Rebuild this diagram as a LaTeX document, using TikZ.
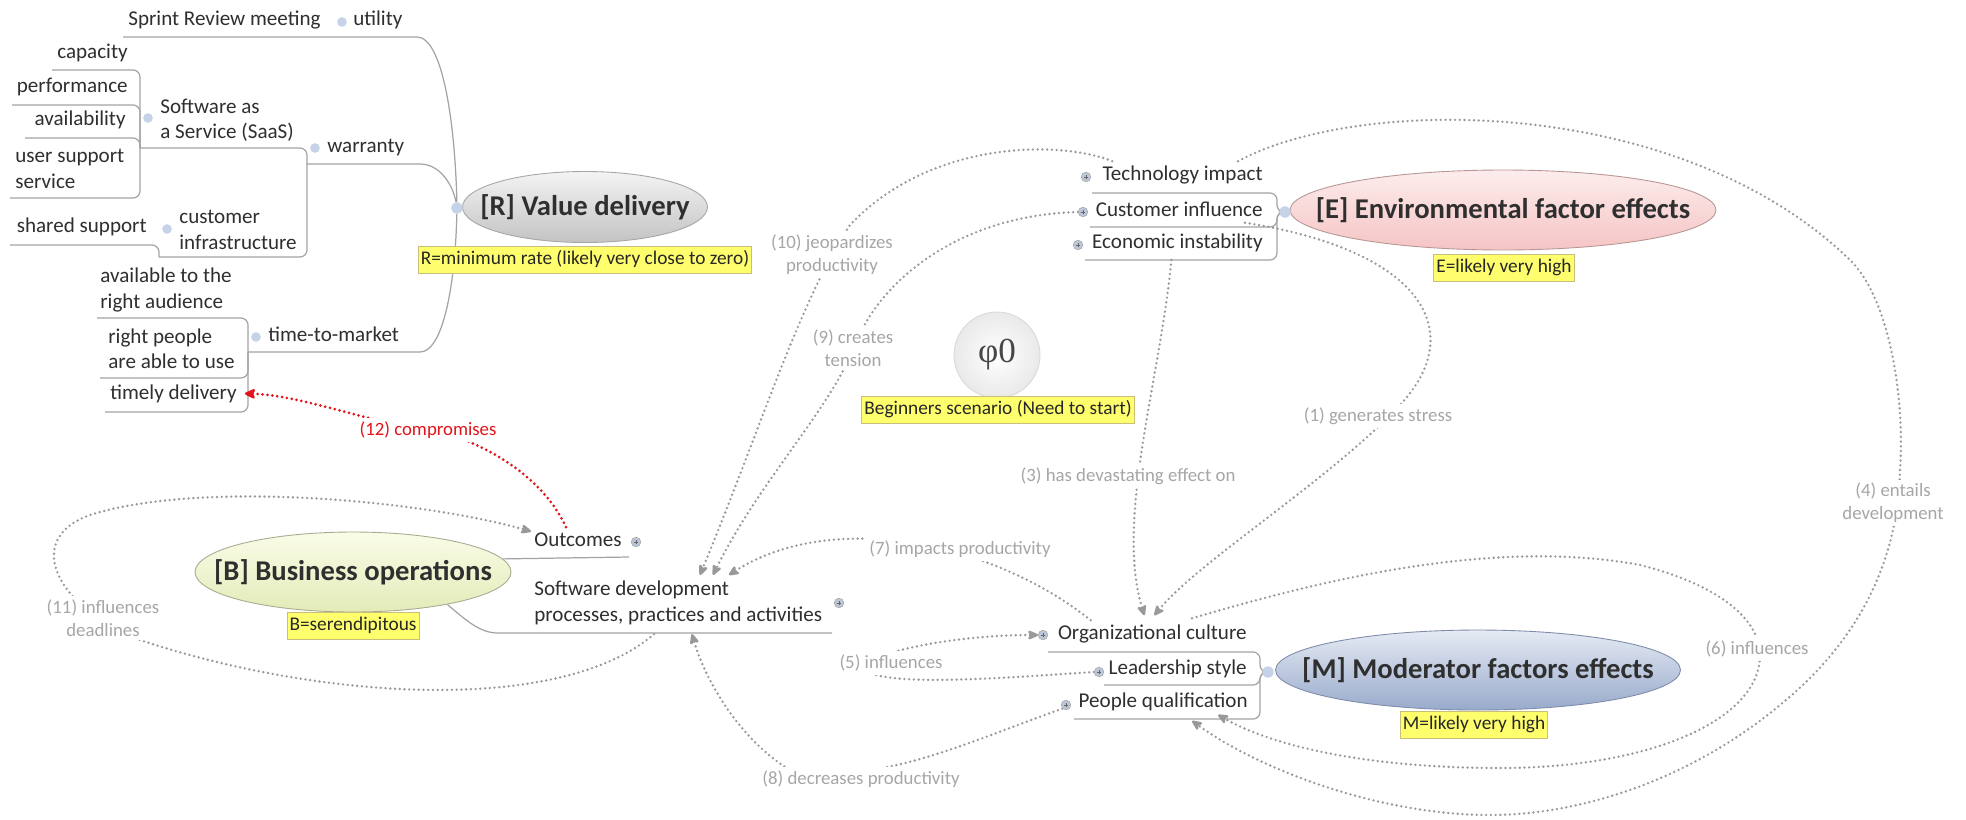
\documentclass[tikz,border=0pt]{standalone}
\usepackage{fontspec}
\setmainfont{Carlito}
\newfontfamily\phifont{Liberation Serif}
\usetikzlibrary{calc,shapes.geometric,arrows.meta}
\definecolor{txt}{HTML}{2F2F2F}
\definecolor{branchgray}{HTML}{A4A4A4}
\definecolor{relgray}{HTML}{999999}
\definecolor{labelgray}{HTML}{A6A6A6}
\definecolor{notefill}{HTML}{FFFF6E}
\definecolor{noteline}{HTML}{C8C07A}
\definecolor{knobfill}{HTML}{C6D2E8}
\definecolor{relred}{HTML}{E3141B}
\pgfdeclarelayer{back}
\pgfsetlayers{back,main}

\begin{document}
\begin{tikzpicture}[x=0.02cm,y=-0.02cm,
	topic/.style={inner sep=0pt,text=txt,font=\fontsize{12}{14.5}\selectfont},
	heading/.style={inner sep=0pt,text=txt,font=\fontsize{16.3}{18}\selectfont\bfseries},
	bubble/.style={ellipse,inner sep=0pt,line width=0.5pt},
	note/.style={fill=notefill,draw=noteline,line width=0.4pt,text=black!85,inner xsep=1.5pt,inner ysep=2.4pt,text height=8pt,text depth=2.4pt,font=\fontsize{11}{13}\selectfont},
	knob/.style={circle,fill=knobfill,inner sep=0pt,minimum size=5.5pt},
	knobplus/.style={circle,fill=knobfill!85!gray,draw=gray!70,line width=0.3pt,inner sep=0pt,minimum size=5.5pt,
		path picture={\draw[black!60,line width=0.4pt] ($(path picture bounding box.center)+(-1.3pt,0)$) -- ++(2.6pt,0) ($(path picture bounding box.center)+(0,-1.3pt)$) -- ++(0,2.6pt);}},
	rootknob/.style={circle,fill=knobfill,inner sep=0pt,minimum size=6.5pt},
	branch/.style={draw=branchgray,line width=0.7pt,rounded corners=4pt},
	rel/.style={draw=relgray,line width=1.5pt,line cap=round,dash pattern=on 0pt off 2.7pt,-{Stealth[length=7.5pt,width=6.5pt,inset=2pt,round]}},
	relred/.style={draw=relred,line width=1.7pt,line cap=round,dash pattern=on 0pt off 2.8pt,-{Stealth[length=7.5pt,width=7pt,inset=2pt,round]}},
	rellabel/.style={fill=white,inner sep=2pt,text=labelgray,align=center,font=\fontsize{10.7}{13}\selectfont},
	]
	\useasboundingbox (0,0) rectangle (1966,819);
	%VALUE DELIVERY
	\node[bubble,minimum width=4.9cm,minimum height=1.42cm,draw=gray!70,top color=gray!9,bottom color=gray!47] (R) at (585,207) {};
	\node[heading] (R-t) at (R) {[R] Value delivery};
	\node[note] (R-n) at (585,260) {R=minimum rate (likely very close to zero)};
	\node[rootknob] (kR) at (457,208) {};
	\node[topic,anchor=mid west] (util) at (353,21) {utility};
	\node[topic,anchor=mid west] (sprint) at (128,21) {Sprint Review meeting};
	\node[knob] (k-util) at (342,22) {};
	\node[topic,anchor=mid west] (warr) at (327,148) {warranty};
	\node[knob] (k-warr) at (315,148) {};
	\node[topic,anchor=west,align=left] (saas) at (160,120) {Software as\\a Service (SaaS)};
	\node[knob] (k-saas) at (148,118) {};
	\node[topic,anchor=mid east] (capacity) at (128,54) {capacity};
	\node[topic,anchor=mid east] (perf) at (128,88) {performance};
	\node[topic,anchor=mid east] (avail) at (126,121) {availability};
	\node[topic,anchor=west,align=left] (support) at (15,169) {user support\\service};
	\node[topic,anchor=west,align=left] (cinfra) at (179,230) {customer\\infrastructure};
	\node[knob] (k-cinfra) at (167,229) {};
	\node[topic,anchor=mid east] (shared) at (147,228) {shared support};
	\node[topic,anchor=mid west] (ttm) at (268,337) {time-to-market};
	\node[knob] (k-ttm) at (256,337) {};
	\node[topic,anchor=west,align=left] (audience) at (100,290) {available to the\\right audience};
	\node[topic,anchor=west,align=left] (ableuse) at (108,349) {right people\\are able to use};
	\node[topic,anchor=mid west] (timely) at (110,395) {timely delivery};
	\coordinate (util-r) at (410,37);
	\coordinate (util-l) at (123,37);
	\coordinate (warr-r) at (413,164);
	\coordinate (warr-l) at (307,164);
	\coordinate (saas-l) at (140,148);
	\coordinate (capacity-l) at (52,70);
	\coordinate (perf-l) at (12,105);
	\coordinate (avail-l) at (25,138);
	\coordinate (support-l) at (10,198);
	\coordinate (cinfra-l) at (159,257);
	\coordinate (shared-l) at (10,245);
	\coordinate (ttm-r) at (413,352);
	\coordinate (ttm-l) at (248,352);
	\coordinate (audience-l) at (97,318);
	\coordinate (ableuse-l) at (100,378);
	\coordinate (timely-l) at (105,412);
	%ENVIRONMENTAL FACTORS
	\node[bubble,minimum width=8.52cm,minimum height=1.6cm,draw={rgb,255:red,184;green,150;blue,150},top color={rgb,255:red,253;green,236;blue,236},bottom color={rgb,255:red,245;green,196;blue,196}] (E) at (1503,210) {};
	\node[heading] (E-t) at (E) {[E] Environmental factor effects};
	\node[note] (E-n) at (1504,268) {E=likely very high};
	\node[rootknob] (kE) at (1285,212) {};
	\node[topic,anchor=mid east] (tech) at (1263,176) {Technology impact};
	\node[topic,anchor=mid east] (cust) at (1263,212) {Customer influence};
	\node[topic,anchor=mid east] (econ) at (1263,244) {Economic instability};
	\node[knobplus] (k-tech) at (1086,177) {};
	\node[knobplus] (k-cust) at (1083,212) {};
	\node[knobplus] (k-econ) at (1078,245) {};
	\coordinate (ebr) at (1277,212);
	\coordinate (tech-l) at (1092,193);
	\coordinate (cust-l) at (1090,227);
	\coordinate (econ-l) at (1085,260);
	%MODERATOR FACTORS
	\node[bubble,minimum width=8.1cm,minimum height=1.6cm,draw={rgb,255:red,127;green,141;blue,170},top color={rgb,255:red,230;green,235;blue,244},bottom color={rgb,255:red,152;green,170;blue,203}] (M) at (1478,670) {};
	\node[heading] (M-t) at (M) {[M] Moderator factors effects};
	\node[note] (M-n) at (1474,725) {M=likely very high};
	\node[rootknob] (kM) at (1268,672) {};
	\node[topic,anchor=mid east] (org) at (1247,635) {Organizational culture};
	\node[topic,anchor=mid east] (lead) at (1247,670) {Leadership style};
	\node[topic,anchor=mid east] (people) at (1248,703) {People qualification};
	\node[knobplus] (k-org) at (1043,635) {};
	\node[knobplus] (k-lead) at (1099,672) {};
	\node[knobplus] (k-people) at (1066,705) {};
	\coordinate (mbr) at (1260,672);
	\coordinate (org-l) at (1048,652);
	\coordinate (lead-l) at (1104,685);
	\coordinate (people-l) at (1074,719);
	%BUSINESS OPERATIONS
	\node[bubble,minimum width=6.32cm,minimum height=1.6cm,draw={rgb,255:red,168;green,171;blue,144},top color={rgb,255:red,250;green,252;blue,232},bottom color={rgb,255:red,227;green,235;blue,184}] (B) at (353,572) {};
	\node[heading] (B-t) at (B) {[B] Business operations};
	\node[note] (B-n) at (353,626) {B=serendipitous};
	\node[topic,anchor=mid west] (out) at (534,542) {Outcomes};
	\node[knobplus] (k-out) at (636,542) {};
	\node[topic,anchor=west,align=left] (sw) at (534,603) {Software development\\processes, practices and activities};
	\node[knobplus] (k-sw) at (839,603) {};
	\coordinate (out-r) at (629,557);
	\coordinate (sw-bend) at (505,633);
	\coordinate (sw-r) at (832,633);
	%SCENARIO
	\node[circle,minimum size=1.72cm,inner sep=0pt,inner color=white,outer color=gray!17,draw=gray!30,line width=0.5pt] (phi) at (997,355) {};
	\node[font=\phifont\fontsize{20}{20}\selectfont,text=black!72] (phi-t) at (phi) {φ0};
	\node[note] (phi-n) at (998,410) {Beginners scenario (Need to start)};
	%RELATIONSHIP LABELS
	\node[rellabel] (l1) at (1378,416) {(1) generates stress};
	\node[rellabel] (l3) at (1128,476) {(3) has devastating effect on};
	\node[rellabel] (l4) at (1893,503) {(4) entails\\development};
	\node[rellabel] (l5) at (891,663) {(5) influences};
	\node[rellabel] (l6) at (1757,649) {(6) influences};
	\node[rellabel] (l7) at (960,549) {(7) impacts productivity};
	\node[rellabel] (l8) at (861,779) {(8) decreases productivity};
	\node[rellabel] (l9) at (853,348) {(9) creates\\tension};
	\node[rellabel] (l10) at (832,255) {(10) jeopardizes\\productivity};
	\node[rellabel] (l11) at (103,618) {(11) influences\\deadlines};
	\node[rellabel,text=relred] (l12) at (428,430) {(12) compromises};
	\begin{pgfonlayer}{back}
	\fill[white] (0,0) rectangle (1966,819);
	%BRANCHES
	\draw[branch] (kR) .. controls (455,120) and (442,37) .. (util-r) -- (util-l);
	\draw[branch] (kR) .. controls (453,185) and (440,164) .. (warr-r) -- (warr-l);
	\draw[branch] (kR) .. controls (455,290) and (442,352) .. (ttm-r) -- (ttm-l);
	\foreach \leaf in {saas,cinfra} \draw[branch] (warr-l) |- (\leaf-l);
	\foreach \leaf in {capacity,perf,avail,support} \draw[branch] (saas-l) |- (\leaf-l);
	\draw[branch] (cinfra-l) |- (shared-l);
	\foreach \leaf in {audience,ableuse,timely} \draw[branch] (ttm-l) |- (\leaf-l);
	\foreach \leaf in {tech,cust,econ} \draw[branch] (kE) -- (ebr) |- (\leaf-l);
	\foreach \leaf in {org,lead,people} \draw[branch] (kM) -- (mbr) |- (\leaf-l);
	\draw[branch] (B.5) -- (out-r);
	\draw[branch] (B.-19) to[out=-40,in=180] (sw-bend) -- (sw-r);
	%RELATIONSHIPS
	\draw[rel] ($(cust.south east)+(-18,6)$) .. controls (1420,250) and (1470,330) .. (1400,405) .. controls (1330,480) and (1200,560) .. ($(org.north)+(2,-9)$);
	\draw[rel] ($(econ.south)+(-6,8)$) .. controls (1160,380) and (1115,520) .. ($(org.north)+(-8,-9)$);
	\draw[rel] ($(tech.north east)+(-25,-4)$) .. controls (1360,95) and (1680,95) .. (1850,260) .. controls (1890,299) and (1905,400) .. (1900,470) .. controls (1898,560) and (1860,640) .. (1780,705) .. controls (1690,780) and (1580,815) .. (1490,815) .. controls (1380,815) and (1260,770) .. ($(people.south)+(29,10)$);
	\draw[rel] (k-lead.west) .. controls (1000,678) and (880,688) .. (862,668) .. controls (875,650) and (960,635) .. (k-org.west);
	\draw[rel] ($(org.north east)+(-55,-6)$) .. controls (1290,590) and (1480,535) .. (1640,565) .. controls (1720,585) and (1760,620) .. (1760,655) .. controls (1760,720) and (1650,768) .. (1500,768) .. controls (1380,768) and (1280,750) .. ($(people.south)+(55,4)$);
	\draw[rel] ($(org.north west)+(33,-4)$) .. controls (990,540) and (830,510) .. ($(sw.north west)+(195,-6)$);
	\draw[rel] (k-people.south west) .. controls (960,745) and (880,785) .. (790,770) .. controls (740,740) and (705,680) .. ($(sw.south west)+(158,9)$);
	\draw[rel] (k-cust.west) .. controls (960,215) and (880,280) .. (855,345) .. controls (830,410) and (760,480) .. ($(sw.north west)+(179,-6)$);
	\draw[rel] ($(tech.north west)+(10,-4)$) .. controls (1060,140) and (930,140) .. (850,225) .. controls (800,300) and (760,430) .. ($(sw.north west)+(166,-6)$);
	\draw[rel] ($(sw.south west)+(120,9)$) .. controls (560,715) and (320,700) .. (140,640) .. controls (60,610) and (20,540) .. (90,515) .. controls (200,480) and (420,500) .. ($(out.west)+(-3,-8)$);
	\draw[relred] ($(out.north)+(-12,-5)$) .. controls (540,470) and (470,435) .. (420,428) .. controls (360,420) and (300,395) .. ($(timely.east)+(8,0)$);
	\end{pgfonlayer}
\end{tikzpicture}
\end{document}
